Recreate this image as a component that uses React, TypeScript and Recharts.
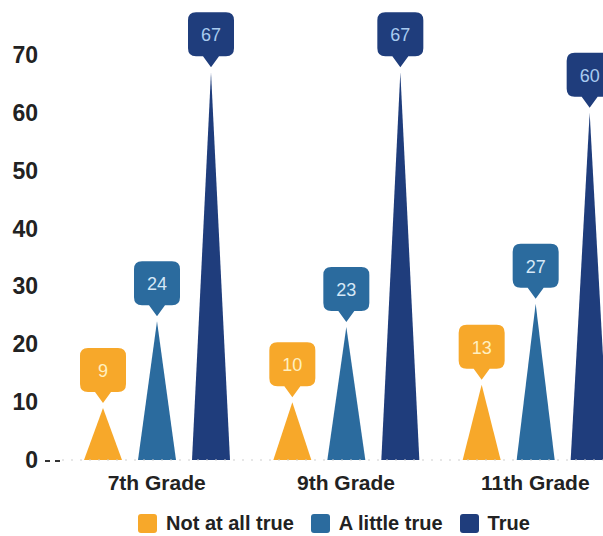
import React from 'react';
import { BarChart, Bar, XAxis, YAxis, Legend, LabelList } from 'recharts';

const grades = ['7th Grade', '9th Grade', '11th Grade'];
const notAtAllTrue = [9, 10, 13];
const aLittleTrue = [24, 23, 27];
const trueVals = [67, 67, 60];
const yTicks = [0, 10, 20, 30, 40, 50, 60, 70];

const FONT = '"Liberation Sans", Arial, sans-serif';

const series = [
  { key: 'notAtAll', name: 'Not at all true', color: '#F7A82A', text: '#FFF0C0' },
  { key: 'aLittle', name: 'A little true', color: '#2B6B9E', text: '#D6E8F7' },
  { key: 'isTrue', name: 'True', color: '#1F3D7C', text: '#A9CBF0' },
];

const data = grades.map((g, i) => ({
  grade: g,
  notAtAll: notAtAllTrue[i],
  aLittle: aLittleTrue[i],
  isTrue: trueVals[i],
}));

// triangle shaped bar
const Spike = (props: any) => {
  const { x, y, width, height, fill } = props;
  if (!height) return null;
  const d = `M${x},${y + height} L${x + width / 2},${y} L${x + width},${y + height} Z`;
  return <path d={d} fill={fill} />;
};

// callout box above the spike
const makeCallout = (color: string, textColor: string) => (props: any) => {
  const { x, y, width, value } = props;
  const cx = x + width / 2;
  const tip = y - 5;
  const w = 46;
  const h = 44;
  const p = 11;
  const r = 8;
  const top = tip - p - h;
  const l = cx - w / 2;
  const rr = cx + w / 2;
  const b = top + h;
  const d = `M${l + r},${top} L${rr - r},${top} Q${rr},${top} ${rr},${top + r} L${rr},${b - r} Q${rr},${b} ${rr - r},${b}
    L${cx + 8},${b} L${cx},${tip} L${cx - 8},${b} L${l + r},${b} Q${l},${b} ${l},${b - r} L${l},${top + r} Q${l},${top} ${l + r},${top} Z`;
  return (
    <g>
      <path d={d} fill={color} />
      <text x={cx} y={top + h / 2 + 7} textAnchor="middle" fontSize={18} fontFamily={FONT} fill={textColor}>
        {value}
      </text>
    </g>
  );
};

const YTick = (props: any) => {
  const { y, payload } = props;
  return (
    <g>
      <text x={38} y={y + 8} textAnchor="end" fontSize={23} fontWeight="bold" fontFamily={FONT} fill="#222">
        {payload.value}
      </text>
      {payload.value === 0 && (
        <line x1={45} x2={62} y1={y + 1} y2={y + 1} stroke="#333" strokeWidth={2} strokeDasharray="5 5" />
      )}
    </g>
  );
};

const LegendContent = () => (
  <div style={{ display: 'flex', alignItems: 'center', paddingLeft: 138, paddingTop: 12, fontFamily: FONT, fontWeight: 'bold', fontSize: 20, color: '#222' }}>
    {series.map((s) => (
      <div key={s.key} style={{ display: 'flex', alignItems: 'center', marginRight: 17 }}>
        <span style={{ width: 19, height: 19, background: s.color, borderRadius: 3, marginRight: 9, display: 'inline-block' }} />
        <span>{s.name}</span>
      </div>
    ))}
  </div>
);

export default function App() {
  return (
    <div style={{ position: 'absolute', left: 0, top: 0, width: 603, height: 536, overflow: 'hidden', background: '#fff' }}>
      <BarChart
        width={640}
        height={536}
        data={data}
        margin={{ top: 55, right: 10, left: 0, bottom: 0 }}
        barSize={38}
        barGap={16}
      >
        <XAxis
          dataKey="grade"
          height={40}
          axisLine={{ stroke: '#cfcfcf', strokeDasharray: '2 7' }}
          tickLine={false}
          tick={{ fontSize: 21, fontWeight: 'bold', fontFamily: FONT, fill: '#222' }}
          tickMargin={9}
        />
        <YAxis
          width={62}
          domain={[0, 70]}
          ticks={yTicks}
          axisLine={false}
          tickLine={false}
          tick={<YTick />}
        />
        <Legend verticalAlign="bottom" content={<LegendContent />} wrapperStyle={{ height: 36 }} />
        {series.map((s) => (
          <Bar key={s.key} dataKey={s.key} name={s.name} fill={s.color} shape={<Spike />} isAnimationActive={false}>
            <LabelList dataKey={s.key} content={makeCallout(s.color, s.text)} />
          </Bar>
        ))}
      </BarChart>
    </div>
  );
}
